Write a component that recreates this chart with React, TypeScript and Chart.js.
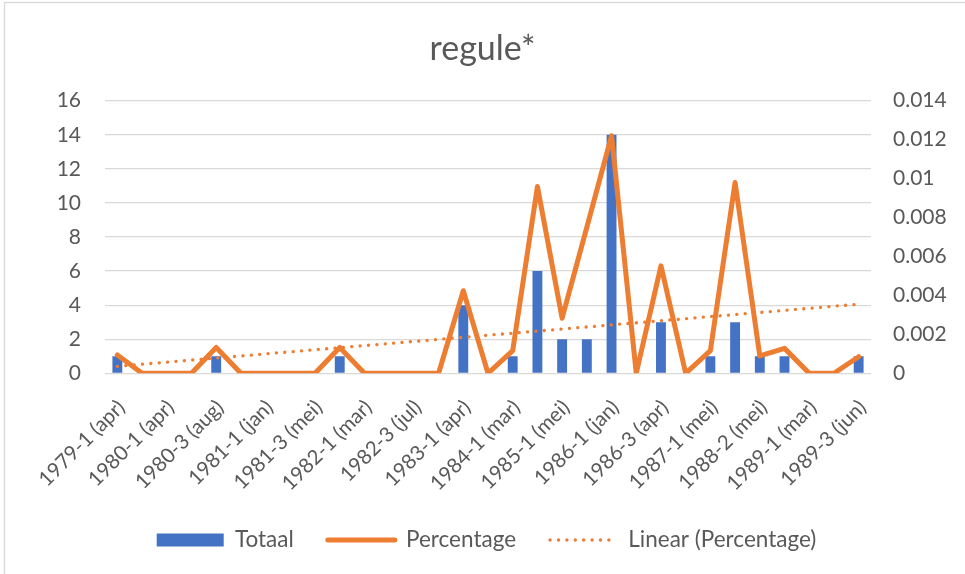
import React, { useEffect, useRef } from 'react';
import { Chart, registerables } from 'chart.js';

Chart.register(...registerables);

// ---- data ----
const CATEGORIES = [
  '1979-1 (apr)', '1979-2 (sep)', '1980-1 (apr)', '1980-2 (jun)', '1980-3 (aug)', '1980-4 (nov)',
  '1981-1 (jan)', '1981-2 (mrt)', '1981-3 (mei)', '1981-4 (okt)', '1982-1 (mar)', '1982-2 (mei)',
  '1982-3 (jul)', '1982-4 (nov)', '1983-1 (apr)', '1983-2 (okt)', '1984-1 (mar)', '1984-2 (okt)',
  '1985-1 (mei)', '1985-2 (nov)', '1986-1 (jan)', '1986-2 (feb)', '1986-3 (apr)', '1986-4 (nov)',
  '1987-1 (mei)', '1987-2 (okt)', '1988-2 (mei)', '1988-3 (okt)', '1989-1 (mar)', '1989-2 (apr)',
  '1989-3 (jun)',
];
const TOTAAL = [1, 0, 0, 0, 1, 0, 0, 0, 0, 1, 0, 0, 0, 0, 4, 0, 1, 6, 2, 2, 14, 0, 3, 0, 1, 3, 1, 1, 0, 0, 1];
const PERCENTAGE = [
  0.00094, 0, 0, 0, 0.00133, 0, 0, 0, 0, 0.00133, 0, 0, 0, 0, 0.00424, 0, 0.00116, 0.00959,
  0.00283, 0.0075, 0.0122, 0, 0.00552, 0, 0.00116, 0.0098, 0.00089, 0.00128, 0, 0, 0.00085,
];
const LEFT_AXIS = { min: 0, max: 16, step: 2 };
const RIGHT_AXIS = { min: 0, max: 0.014, step: 0.002 };
const TITLE = 'regule*';
const LEGEND_LABELS = ['Totaal', 'Percentage', 'Linear (Percentage)'];

// least-squares trendline of the Percentage series (Excel "Linear" trendline)
function linearTrend(values: number[]): number[] {
  const n = values.length;
  let sx = 0, sy = 0, sxx = 0, sxy = 0;
  values.forEach((y, i) => { sx += i; sy += y; sxx += i * i; sxy += i * y; });
  const slope = (n * sxy - sx * sy) / (n * sxx - sx * sx);
  const intercept = (sy - slope * sx) / n;
  return values.map((_, i) => intercept + slope * i);
}

const BLUE = '#4472C4';
const ORANGE = '#ED7D31';
const TEXT = '#595959';
const GRID = '#d9d9d9';
const FONT = 'Lato, "Noto Sans", sans-serif';

const framePlugin = {
  id: 'frame',
  beforeDraw(chart: any) {
    const ctx = chart.ctx;
    ctx.save();
    ctx.fillStyle = '#ffffff';
    ctx.fillRect(0, 0, chart.width, chart.height);
    ctx.strokeStyle = GRID;
    ctx.lineWidth = 1.3;
    ctx.strokeRect(4.5, 2.5, chart.width + 20, chart.height + 20);
    ctx.restore();
  },
  afterLayout(chart: any) {
    const lg = chart.legend;
    if (lg) { lg.left += 4; lg.right += 4; }
  },
};

export default function App() {
  const ref = useRef<HTMLCanvasElement | null>(null);

  useEffect(() => {
    if (!ref.current) return;
    const trend = linearTrend(PERCENTAGE);
    const chart = new Chart(ref.current, {
      type: 'bar',
      data: {
        labels: CATEGORIES,
        datasets: [
          {
            type: 'line',
            label: LEGEND_LABELS[2],
            data: trend,
            yAxisID: 'y1',
            borderColor: ORANGE,
            borderWidth: 3.3,
            borderDash: [0.1, 8.3],
            borderCapStyle: 'round',
            pointRadius: 0,
            order: 1,
          } as any,
          {
            type: 'line',
            label: LEGEND_LABELS[1],
            data: PERCENTAGE,
            yAxisID: 'y1',
            borderColor: ORANGE,
            borderWidth: 5,
            borderJoinStyle: 'round',
            borderCapStyle: 'round',
            pointRadius: 0,
            tension: 0,
            order: 2,
          } as any,
          {
            type: 'bar',
            label: LEGEND_LABELS[0],
            data: TOTAAL,
            yAxisID: 'y',
            backgroundColor: BLUE,
            barPercentage: 0.4,
            categoryPercentage: 1.0,
            order: 3,
          } as any,
        ],
      },
      options: {
        responsive: false,
        animation: false,
        events: [],
        layout: { padding: { top: 0, left: 0, right: 0, bottom: 12.75 } },
        font: { family: FONT },
        plugins: {
          title: {
            display: true,
            text: TITLE,
            color: TEXT,
            font: { family: FONT, size: 34, weight: 'normal' },
            padding: { top: 28.6, bottom: 31.3 },
          },
          legend: {
            position: 'bottom',
            labels: {
              usePointStyle: true,
              pointStyleWidth: 67,
              boxHeight: 13,
              padding: 34,
              color: TEXT,
              font: { family: FONT, size: 22.5 },
              generateLabels: () => [
                { text: LEGEND_LABELS[0], fillStyle: BLUE, strokeStyle: BLUE, lineWidth: 0, pointStyle: 'rect', fontColor: TEXT, hidden: false, datasetIndex: 2 },
                { text: LEGEND_LABELS[1], fillStyle: ORANGE, strokeStyle: ORANGE, lineWidth: 5, lineCap: 'round', pointStyle: 'line', fontColor: TEXT, hidden: false, datasetIndex: 1 },
                { text: LEGEND_LABELS[2], fillStyle: ORANGE, strokeStyle: ORANGE, lineWidth: 3.3, lineCap: 'round', lineDash: [0.1, 8.3], pointStyle: 'line', fontColor: TEXT, hidden: false, datasetIndex: 0 },
              ] as any,
            },
          },
          tooltip: { enabled: false },
        },
        scales: {
          x: {
            grid: { display: false, drawTicks: false },
            border: { display: false },
            ticks: {
              autoSkip: false,
              minRotation: 45,
              maxRotation: 45,
              padding: 22,
              labelOffset: 4,
              color: TEXT,
              font: { family: FONT, size: 20.5 },
              callback: (_v: any, i: number) => (i % 2 === 0 ? CATEGORIES[i] : ''),
            },
            afterFit: (s: any) => { s.height = 121.45; },
          },
          y: {
            position: 'left',
            min: LEFT_AXIS.min,
            max: LEFT_AXIS.max,
            grid: { color: GRID, lineWidth: 1.3, drawTicks: false, tickLength: 0 },
            border: { display: false },
            ticks: { stepSize: LEFT_AXIS.step, padding: 24, color: TEXT, font: { family: FONT, size: 21 } },
            afterFit: (s: any) => { s.width = 105; },
          },
          y1: {
            position: 'right',
            min: RIGHT_AXIS.min,
            max: RIGHT_AXIS.max,
            grid: { display: false, drawTicks: false, tickLength: 0 },
            border: { display: false },
            ticks: {
              stepSize: RIGHT_AXIS.step,
              padding: 22,
              color: TEXT,
              font: { family: FONT, size: 21 },
              callback: (v: any) => String(Number(Number(v).toFixed(3))),
            },
            afterFit: (s: any) => { s.width = 94; },
          },
        },
      } as any,
      plugins: [framePlugin],
    });
    return () => chart.destroy();
  }, []);

  return (
    <div style={{ position: 'absolute', left: 0, top: 0, width: 965, height: 574 }}>
      <canvas ref={ref} width={965} height={574} />
    </div>
  );
}
